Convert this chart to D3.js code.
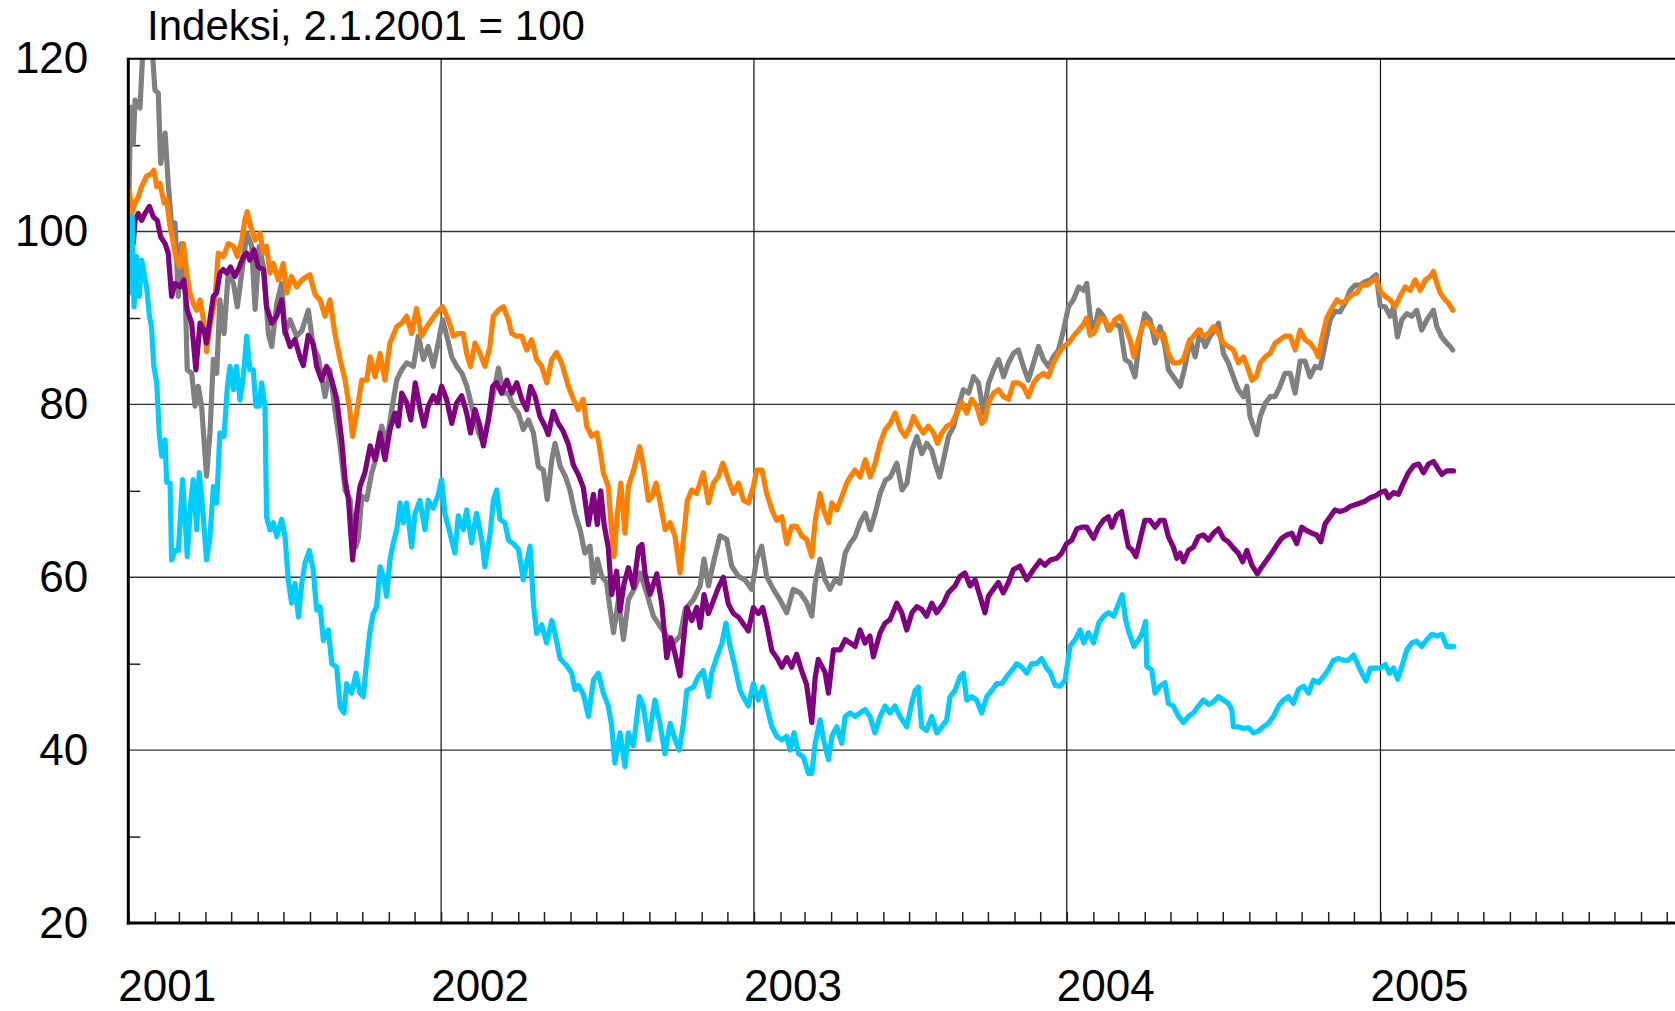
<!DOCTYPE html>
<html>
<head>
<meta charset="utf-8">
<script src="https://cdn.jsdelivr.net/npm/d3@7"></script>
<style>
  html, body { margin: 0; padding: 0; background: #fff; }
  svg { display: block; }
  text { font-family: "Liberation Sans", Arial, sans-serif; fill: #000; }
</style>
</head>
<body>
<svg id="chart" width="1675" height="1011"></svg>
<script>
// values: [months since 1.1.2001, index]
const gray = [[0,100],[0.09,114.4],[0.19,110.2],[0.26,115.2],[0.45,114.3],[0.55,120.5],[0.64,123],[0.83,123],[0.93,120.5],[1.02,116.4],[1.15,116],[1.24,107.9],[1.41,111.4],[1.53,105.6],[1.66,100.6],[1.79,101],[1.92,92.5],[2.04,98.6],[2.17,94.4],[2.26,84],[2.43,83.6],[2.56,79.8],[2.68,82.1],[2.81,79.8],[3.0,71.7],[3.13,76.7],[3.26,85.2],[3.39,83.6],[3.51,92.1],[3.67,88.2],[3.83,95.2],[4.03,94],[4.18,91.3],[4.35,95.2],[4.54,99.8],[4.73,98.3],[4.86,91],[5.02,98.3],[5.2,95.6],[5.37,88.2],[5.5,86.7],[5.69,91.7],[5.88,94],[6.0,88.2],[6.2,89.8],[6.45,87.9],[6.65,88.5],[6.9,90.9],[7.09,86.7],[7.28,85.5],[7.54,80.9],[7.73,84],[7.92,79.4],[8.12,75.2],[8.31,70.1],[8.5,69],[8.63,64.5],[8.72,63.5],[8.82,64.5],[8.95,69.4],[9.14,69],[9.33,72.1],[9.52,74],[9.71,77.5],[9.9,75.5],[10.1,79.4],[10.29,82.8],[10.48,84],[10.67,84.8],[10.93,84.4],[11.12,87.9],[11.31,85.2],[11.5,86.7],[11.69,84.4],[11.88,87.1],[12.05,89.8],[12.21,87.9],[12.4,85.5],[12.59,84.4],[12.79,83.6],[12.98,82.1],[13.23,79],[13.43,76.7],[13.61,75.5],[13.8,78.2],[14.0,81.3],[14.19,84.2],[14.38,81.3],[14.57,81.3],[14.76,79.8],[14.95,79],[15.14,77.1],[15.34,78.2],[15.53,76.7],[15.72,72.8],[15.91,72.4],[16.06,69],[16.23,73.5],[16.36,75.5],[16.56,72.8],[16.75,71.7],[16.93,70.1],[17.12,67.4],[17.32,65.5],[17.5,62.8],[17.7,63.6],[17.83,59.4],[17.98,62.1],[18.15,60.1],[18.33,59.4],[18.47,56.3],[18.6,53.6],[18.79,57.4],[18.98,52.8],[19.17,57.4],[19.43,58.9],[19.62,60.5],[19.87,58.2],[20.13,55.5],[20.39,54.3],[20.64,53.2],[20.9,52.4],[21.15,53.2],[21.35,56.3],[21.66,57.4],[21.92,59],[22.07,62.1],[22.24,59],[22.43,61.7],[22.68,64.8],[22.94,64.4],[23.13,61.3],[23.39,60.1],[23.64,59.7],[23.9,58.6],[24.09,62.1],[24.28,63.6],[24.47,60.1],[24.73,58.6],[24.98,57.4],[25.24,55.9],[25.49,58.6],[25.75,58.2],[26.0,57.1],[26.2,55.5],[26.33,59.3],[26.52,62.1],[26.71,59.7],[26.9,58.6],[27.09,59.7],[27.28,59.3],[27.48,62.8],[27.67,63.9],[27.86,64.7],[28.05,66.3],[28.25,67.4],[28.44,65.5],[28.63,67.4],[28.82,69.7],[29.02,71.2],[29.21,71.6],[29.46,73.2],[29.66,70.1],[29.85,70.9],[30.04,74.7],[30.23,76.3],[30.42,74.3],[30.61,75.5],[30.8,74.7],[30.93,73.2],[31.1,71.6],[31.25,73.6],[31.44,76.3],[31.63,77.4],[31.82,79.8],[32.01,81.7],[32.21,81.3],[32.4,83.2],[32.59,82.5],[32.78,79],[32.98,82.5],[33.17,84],[33.36,85.2],[33.55,83.2],[33.74,84.8],[33.93,85.9],[34.12,86.3],[34.31,84.4],[34.5,82.8],[34.7,84.8],[34.89,86.7],[35.08,85.2],[35.27,84.4],[35.46,85.5],[35.66,86.3],[35.85,88.6],[36.04,91.3],[36.23,92.1],[36.43,93.6],[36.62,93.2],[36.74,94],[36.87,90.2],[37.0,88.2],[37.19,90.9],[37.38,90.2],[37.57,88.6],[37.76,89.4],[38.02,89],[38.21,85.2],[38.4,84.8],[38.59,83.2],[38.78,87.9],[38.97,90.5],[39.17,89.8],[39.36,87.1],[39.55,89],[39.74,86.7],[39.87,84],[40.06,83.2],[40.32,82.1],[40.51,84.4],[40.7,87.5],[40.9,85.5],[41.09,88.6],[41.28,86.7],[41.47,87.9],[41.66,88.6],[41.79,89.4],[41.98,85.9],[42.17,84.8],[42.36,83.2],[42.55,81.7],[42.75,80.9],[42.88,82.1],[43.0,78.6],[43.13,77.5],[43.26,76.5],[43.39,78.6],[43.58,80.1],[43.77,80.9],[43.96,80.9],[44.15,82.1],[44.34,83.6],[44.54,83.6],[44.73,81.3],[44.92,85],[45.11,85],[45.3,83.2],[45.5,84.4],[45.69,84.2],[45.88,87],[46.07,89.8],[46.26,90.8],[46.45,90.7],[46.64,91.7],[46.84,93.2],[47.03,93.8],[47.22,93.8],[47.41,94.2],[47.6,94.4],[47.84,95],[47.99,91.4],[48.18,91.3],[48.37,90.2],[48.5,91.3],[48.65,87.8],[48.82,89.8],[49.01,90.5],[49.2,90.2],[49.39,90.9],[49.58,88.6],[49.78,89.8],[50.03,90.9],[50.16,89],[50.35,87.8],[50.54,87.1],[50.67,86.7],[50.77,86.3]]

const orange = [[0,100],[0.04,104.8],[0.13,102.1],[0.26,103.3],[0.38,104],[0.51,105.2],[0.7,106.4],[0.89,106.7],[0.98,107.1],[1.09,105.2],[1.21,105.6],[1.37,103.3],[1.47,103.7],[1.6,100.6],[1.73,98.6],[1.85,96.7],[1.98,95.9],[2.11,98.6],[2.24,95.2],[2.36,92.9],[2.49,91.7],[2.62,90.9],[2.75,92.1],[2.88,89.8],[3.0,86.1],[3.13,89],[3.32,92.1],[3.45,97.5],[3.64,97.1],[3.83,98.6],[4.03,98.3],[4.18,97.1],[4.35,99],[4.47,101.4],[4.56,102.3],[4.69,100.6],[4.86,99],[5.05,99.8],[5.18,97.5],[5.3,98.3],[5.43,95.2],[5.56,96.3],[5.75,94.4],[5.94,96.3],[6.07,92.9],[6.26,94.8],[6.45,93.6],[6.65,94.4],[6.84,94.8],[6.96,95],[7.16,92.7],[7.35,92.1],[7.54,90.2],[7.73,92.1],[7.92,88.2],[8.12,85.2],[8.31,82.8],[8.47,79.8],[8.6,76.3],[8.75,79],[8.95,82.8],[9.14,82.8],[9.27,85.5],[9.46,83.2],[9.65,85.9],[9.84,82.8],[10.03,87.1],[10.29,89],[10.48,89.4],[10.67,90.2],[10.86,88.2],[11.05,91.1],[11.24,87.9],[11.44,89],[11.63,89.8],[11.82,90.6],[12.05,91.3],[12.27,89.8],[12.46,87.9],[12.65,88.2],[12.84,88.2],[12.97,85.9],[13.12,84.4],[13.29,87.1],[13.48,85.9],[13.67,84.4],[13.86,86.7],[13.99,90.2],[14.19,90.9],[14.38,91.3],[14.57,89.8],[14.7,88.2],[14.89,87.9],[15.08,87.9],[15.27,86.3],[15.46,87.5],[15.65,85.2],[15.85,84.4],[16.04,82.5],[16.23,85.2],[16.42,86],[16.61,84.8],[16.87,82.1],[17.06,80.6],[17.25,79.4],[17.44,80.6],[17.57,77.5],[17.76,76.3],[17.96,76.7],[18.08,74.8],[18.21,72.1],[18.4,70.5],[18.53,65.1],[18.62,62.4],[18.75,67.4],[18.88,70.9],[19.04,65.1],[19.17,70.5],[19.37,72.4],[19.6,75.1],[19.75,72.8],[19.94,68.9],[20.07,69.3],[20.23,70.9],[20.39,68.6],[20.58,65.5],[20.77,66.3],[20.96,64.7],[21.15,60.5],[21.3,65.1],[21.43,68.9],[21.6,70.1],[21.79,69.7],[22.04,72.1],[22.24,68.6],[22.43,70.9],[22.62,71.7],[22.79,73.2],[23.0,71.3],[23.2,69.7],[23.39,70.9],[23.58,68.9],[23.77,68.6],[23.96,70.5],[24.09,72.4],[24.29,72.4],[24.47,69.7],[24.67,67.8],[24.85,66.6],[25.05,67],[25.24,63.9],[25.43,65.9],[25.62,65.9],[25.81,64.8],[26.0,64.4],[26.2,62.4],[26.33,66.5],[26.52,69.7],[26.65,67.8],[26.84,66.3],[26.97,68.6],[27.16,67.8],[27.35,69.3],[27.54,70.9],[27.67,71.6],[27.86,72.4],[28.05,71.6],[28.25,73.6],[28.44,71.6],[28.63,73.2],[28.82,75.5],[29.02,77.1],[29.21,77.8],[29.4,79],[29.6,77.1],[29.79,76.3],[29.98,77.5],[30.1,78.6],[30.29,77.5],[30.48,76.7],[30.67,77.5],[30.87,76.7],[31.02,75.5],[31.18,76.7],[31.38,77.5],[31.57,77.8],[31.76,79],[31.95,80.2],[32.14,79],[32.33,80.6],[32.52,79.8],[32.72,77.8],[32.84,78.2],[32.97,80.2],[33.17,81.3],[33.36,81.7],[33.55,80.9],[33.74,80.6],[33.93,82.5],[34.12,82.5],[34.31,82.1],[34.5,80.9],[34.7,82.5],[34.89,83.2],[35.08,83.6],[35.27,83.2],[35.46,84.8],[35.66,85.9],[35.85,86.7],[36.04,87.1],[36.23,87.9],[36.43,88.6],[36.62,89.3],[36.74,90],[36.87,88],[37.06,88.5],[37.25,90],[37.44,89.8],[37.63,88.6],[37.82,89.8],[38.02,90.2],[38.21,89],[38.4,87.5],[38.55,85.5],[38.72,87.5],[38.91,89.4],[39.1,89.4],[39.3,88.6],[39.49,87.9],[39.68,88.2],[39.87,85.9],[40.06,84.8],[40.26,84.8],[40.45,85.2],[40.64,87.1],[40.83,87.9],[41.02,88.6],[41.21,87.9],[41.41,88.2],[41.6,89],[41.79,88.2],[41.98,87.1],[42.17,86.7],[42.36,86.3],[42.55,84.8],[42.75,85.5],[42.94,84],[43.07,82.8],[43.24,83.2],[43.39,84.8],[43.58,85.5],[43.77,85.9],[43.96,87.1],[44.15,87.5],[44.34,87.9],[44.54,87.9],[44.73,86.3],[44.92,88.6],[45.11,87.5],[45.3,87.1],[45.5,86.3],[45.62,85.5],[45.75,87.6],[45.94,90],[46.13,91.1],[46.33,92.1],[46.52,91.7],[46.71,92.1],[46.9,92.7],[47.09,92.9],[47.28,93.8],[47.47,93.8],[47.66,94.2],[47.84,94.6],[47.99,93.1],[48.18,92.5],[48.37,92.1],[48.56,91.3],[48.75,92.5],[48.95,93.6],[49.14,93.2],[49.33,94.4],[49.52,93.2],[49.72,94.4],[49.9,94.8],[50.03,95.4],[50.16,94],[50.29,92.9],[50.48,92.1],[50.61,91.7],[50.77,90.9]]

const purple = [[0,100],[0.04,100.6],[0.19,98.6],[0.26,101.3],[0.38,102.1],[0.51,101.3],[0.64,102.1],[0.81,102.9],[0.96,101.7],[1.11,101.3],[1.24,99.4],[1.41,98.6],[1.53,97.5],[1.66,92.5],[1.79,94],[1.98,93.6],[2.13,94.4],[2.26,90.9],[2.43,89.4],[2.59,84],[2.75,89.4],[2.9,88.6],[3.0,87.1],[3.13,89.8],[3.26,92.5],[3.39,92.9],[3.51,95.2],[3.64,95.6],[3.77,95.2],[3.92,95.9],[4.09,94.8],[4.26,95.9],[4.41,97.1],[4.54,97.5],[4.66,96.7],[4.82,97.9],[4.98,95.9],[5.18,95.6],[5.3,91.3],[5.5,89.4],[5.69,90.2],[5.88,92.1],[6.0,88.6],[6.2,86.7],[6.39,87.5],[6.58,85.5],[6.71,84.5],[6.9,88],[7.09,87],[7.22,84.4],[7.41,82.8],[7.6,84.4],[7.8,82.8],[7.99,80.6],[8.18,75.9],[8.31,71.3],[8.44,69],[8.6,62],[8.75,67.4],[8.88,70.5],[9.07,72.1],[9.27,75.2],[9.46,73.6],[9.65,76.7],[9.84,73.6],[10.03,77.1],[10.22,79],[10.35,77.5],[10.48,81.3],[10.67,80.2],[10.83,78.2],[11.0,82.5],[11.19,79.4],[11.34,77.5],[11.5,79.8],[11.69,81],[11.85,80.2],[12.01,82.1],[12.2,80.6],[12.4,77.8],[12.59,80.2],[12.78,81],[12.97,79],[13.12,76.7],[13.29,79.4],[13.48,77.5],[13.61,75.2],[13.8,78.2],[13.97,82.1],[14.12,82.5],[14.31,81.3],[14.51,82.8],[14.7,81.3],[14.89,82.5],[15.08,80.6],[15.27,79.4],[15.42,82.1],[15.59,81],[15.78,78.6],[15.97,77.5],[16.1,76.5],[16.29,79.2],[16.48,77.8],[16.67,76.9],[16.87,75.4],[17.06,73],[17.25,71.9],[17.44,70.4],[17.64,66.1],[17.83,69.6],[17.98,66.1],[18.11,70],[18.24,66.1],[18.4,63.4],[18.53,58],[18.72,60.7],[18.85,56.1],[19.0,59.2],[19.17,61.1],[19.37,58.8],[19.56,63.4],[19.69,63.8],[19.81,60.4],[20.0,58],[20.26,60.4],[20.45,56.9],[20.64,50.7],[20.8,53],[20.96,51.1],[21.15,48.6],[21.28,52.6],[21.41,56.5],[21.6,55],[21.79,56.5],[21.92,54.2],[22.07,58],[22.24,55.8],[22.43,57.3],[22.62,58.8],[22.81,60],[23.0,56.9],[23.2,55.8],[23.39,55.4],[23.58,54.6],[23.77,53.8],[23.96,56.5],[24.15,55.8],[24.32,56.5],[24.47,54.6],[24.67,51.5],[24.86,50.7],[25.05,49.6],[25.24,50.7],[25.43,49.6],[25.62,51.1],[25.81,49.2],[26.0,47.6],[26.2,43.2],[26.33,48.4],[26.45,50.5],[26.71,49],[26.84,46.6],[27.03,51.6],[27.29,51.6],[27.48,52.8],[27.67,52.4],[27.86,52],[28.05,53.9],[28.24,52.4],[28.43,53.2],[28.56,50.8],[28.82,53.6],[29.01,54.7],[29.2,55.1],[29.46,57],[29.65,55.9],[29.84,53.9],[30.04,55.9],[30.23,56.6],[30.41,56.3],[30.6,55.5],[30.8,57],[30.99,55.9],[31.25,57],[31.43,58.2],[31.69,59],[31.88,60.1],[32.07,60.5],[32.27,59],[32.46,59.7],[32.65,57.8],[32.84,55.9],[32.97,57.8],[33.16,58.6],[33.35,59.4],[33.54,58.2],[33.74,59.4],[33.93,60.9],[34.18,61.3],[34.44,59.7],[34.7,60.9],[34.95,61.9],[35.14,61.4],[35.34,62],[35.59,62.2],[35.78,62.8],[35.97,63.9],[36.17,64.3],[36.36,65.6],[36.55,65.8],[36.74,65.8],[37.0,64.5],[37.19,65.8],[37.38,66.6],[37.57,67],[37.7,65.8],[37.89,67.2],[38.08,67.6],[38.21,65.4],[38.34,63.5],[38.47,63.2],[38.63,62.4],[38.78,64.3],[38.97,66.6],[39.16,66.6],[39.36,65.8],[39.55,66.6],[39.71,66.6],[39.87,64.7],[40.06,63.5],[40.19,62.2],[40.32,62.8],[40.45,61.8],[40.64,63.1],[40.83,63.5],[41.02,64.7],[41.21,64.9],[41.41,64.3],[41.6,65.1],[41.79,65.6],[41.98,64.5],[42.17,64.1],[42.36,63.4],[42.55,62.8],[42.72,61.8],[42.88,63.1],[43.07,61.4],[43.28,60.4],[43.45,61.2],[43.64,62],[43.83,62.8],[44.02,63.7],[44.21,64.5],[44.41,64.9],[44.6,65.1],[44.79,63.9],[44.98,65.8],[45.17,65.4],[45.37,65.1],[45.56,64.9],[45.71,64.1],[45.88,66.2],[46.07,67],[46.26,67.8],[46.45,67.6],[46.65,67.8],[46.84,68.2],[47.03,68.4],[47.22,68.6],[47.41,68.8],[47.6,69.2],[47.8,69.4],[47.99,69.8],[48.18,70],[48.31,69.2],[48.5,69.8],[48.69,69.6],[48.88,70.9],[49.07,72.1],[49.27,72.9],[49.46,73.1],[49.65,72.1],[49.84,73.1],[50.03,73.4],[50.22,72.5],[50.35,71.9],[50.54,72.3],[50.8,72.3]]

const cyan = [[0,100],[0.09,92.9],[0.15,101.7],[0.22,91.3],[0.32,97.1],[0.42,92.5],[0.51,96.7],[0.6,95.2],[0.7,93.6],[0.81,90.2],[0.89,89],[0.98,84.4],[1.09,82.5],[1.19,76.5],[1.28,74],[1.41,75.9],[1.47,71],[1.6,70.9],[1.66,62],[1.79,63.1],[1.92,63.1],[2.08,71.3],[2.17,67],[2.26,62.4],[2.39,68.6],[2.49,71.3],[2.62,65.5],[2.72,72.1],[2.81,69.4],[2.9,65.9],[3.0,62],[3.13,64.7],[3.26,70.5],[3.39,68.6],[3.51,76.7],[3.67,76.3],[3.8,82.1],[3.9,84.4],[4.03,81.7],[4.15,84.4],[4.28,80.5],[4.41,83.2],[4.54,87.9],[4.66,84],[4.79,84],[4.89,79.8],[5.02,79.8],[5.11,82.5],[5.24,79.8],[5.3,67],[5.43,65.5],[5.56,66.3],[5.69,64.7],[5.88,66.7],[6.01,64.7],[6.13,59.7],[6.26,57],[6.39,59.3],[6.52,55.4],[6.65,59.3],[6.77,61.6],[6.94,63.1],[7.09,60.8],[7.22,56.2],[7.35,56.6],[7.48,52.7],[7.67,53.9],[7.8,50],[7.99,49.6],[8.12,45],[8.27,44.3],[8.37,47.7],[8.56,46.6],[8.73,48.9],[8.88,46.6],[9.01,46.2],[9.14,50.4],[9.27,53.9],[9.39,55.8],[9.52,56.6],[9.65,61.2],[9.78,60.1],[9.9,57.8],[10.03,62],[10.16,64],[10.29,65.5],[10.42,68.6],[10.54,66.3],[10.67,68.6],[10.86,63.5],[10.99,67.4],[11.18,68.9],[11.37,65.5],[11.5,68.9],[11.69,68],[11.88,69.5],[12.01,71.3],[12.14,67.3],[12.33,65.1],[12.52,62.8],[12.65,67.1],[12.84,65.5],[12.97,67.8],[13.16,64],[13.35,67.4],[13.55,64.3],[13.67,61.2],[13.87,65.1],[14.0,69],[14.12,70.1],[14.25,66.7],[14.44,66.3],[14.57,64.3],[14.76,63.9],[14.96,63.2],[15.14,59.7],[15.4,63.6],[15.53,57],[15.65,53.5],[15.85,54.5],[16.04,52.4],[16.23,55],[16.36,53.5],[16.55,50.6],[16.8,49.8],[17.0,48.9],[17.12,47],[17.25,47.5],[17.44,46.5],[17.64,43.9],[17.83,48.1],[18.02,48.9],[18.21,46.6],[18.4,45.1],[18.53,42.8],[18.65,38.5],[18.85,42],[19.04,38.1],[19.17,42],[19.36,40.5],[19.59,46.2],[19.74,45.1],[19.94,41.2],[20.19,45.8],[20.38,43.1],[20.57,39.6],[20.77,43.1],[20.96,41.2],[21.12,40],[21.28,43.1],[21.41,46.9],[21.66,47.3],[21.85,48.5],[22.04,49.2],[22.24,46.2],[22.36,48.9],[22.56,50.8],[22.75,52.3],[22.91,54.7],[23.07,52],[23.26,49.6],[23.45,46.9],[23.64,45.8],[23.77,45.1],[23.96,47.7],[24.15,45.8],[24.32,47.3],[24.47,45.1],[24.67,42.7],[24.86,41.6],[25.05,41.2],[25.24,41.6],[25.37,40],[25.52,42],[25.69,39.6],[25.88,39.2],[26.07,37.3],[26.2,37.3],[26.33,40.8],[26.52,43.5],[26.65,41.2],[26.84,38.9],[26.97,41.6],[27.16,42.7],[27.35,40.8],[27.48,43.9],[27.67,44.3],[27.86,43.9],[28.05,44.3],[28.24,44.7],[28.43,43.9],[28.62,42],[28.82,43.9],[29.01,45.1],[29.2,44.3],[29.39,45.1],[29.58,43.9],[29.84,42.7],[30.03,45.4],[30.16,46.9],[30.29,47.3],[30.41,42.7],[30.6,42.3],[30.8,43.9],[30.99,42],[31.18,42.7],[31.37,43.5],[31.5,46.2],[31.69,46.9],[31.88,48.5],[32.01,48.9],[32.14,45.8],[32.33,46.2],[32.52,45.8],[32.71,44.3],[32.91,46.2],[33.1,46.9],[33.29,47.7],[33.48,47.7],[33.67,48.5],[33.86,49.2],[34.06,50],[34.25,49.6],[34.44,48.9],[34.63,50],[34.82,50],[35.01,50.6],[35.2,49.5],[35.34,49],[35.53,47.5],[35.72,47.4],[35.91,48.1],[36.1,52],[36.3,52.8],[36.49,53.9],[36.62,52.4],[36.81,53.6],[37.0,52.4],[37.2,54.7],[37.39,55.5],[37.58,55.9],[37.77,55.5],[37.97,57],[38.1,58],[38.23,55.1],[38.36,53.6],[38.55,52],[38.74,52.8],[38.87,53.6],[39.0,54.9],[39.04,49.7],[39.23,49.3],[39.36,46.6],[39.55,47.4],[39.74,47.8],[39.87,45.4],[40.06,45.1],[40.26,43.9],[40.45,43.2],[40.64,43.9],[40.83,44.3],[41.02,45.1],[41.21,45.8],[41.41,45.3],[41.6,45.6],[41.79,46.2],[41.98,45.8],[42.17,45.4],[42.3,44.7],[42.36,42.7],[42.55,42.7],[42.75,42.5],[42.94,42.6],[43.13,42],[43.32,42.2],[43.51,42.7],[43.7,43.1],[43.9,43.9],[44.09,45.1],[44.28,45.8],[44.47,46.2],[44.66,45.4],[44.85,47],[45.05,47.4],[45.24,46.6],[45.43,48.1],[45.62,47.8],[45.81,48.5],[46.0,49.3],[46.2,50.4],[46.39,50.6],[46.58,50.4],[46.77,50.4],[46.97,51],[47.16,49.7],[47.29,48.9],[47.45,48],[47.61,49.5],[47.8,49.5],[47.99,49.5],[48.18,49.9],[48.35,48.9],[48.5,49.5],[48.66,48.2],[48.82,49.7],[49.01,51.6],[49.2,52.4],[49.39,52.6],[49.58,52],[49.78,52.8],[49.97,53.4],[50.16,53.2],[50.35,53.4],[50.54,52],[50.8,52]]

const yMajor = [20, 40, 60, 80, 100, 120]
const yMinor = [30, 50, 70, 90, 110]
const years = [2001, 2002, 2003, 2004, 2005]
const title = "Indeksi, 2.1.2001 = 100"

// series drawn bottom to top
const series = [
  { data: gray, color: "#808080" },
  { data: orange, color: "#ff8000" },
  { data: purple, color: "#800080" },
  { data: cyan, color: "#00ccff" }
]

const W = 1675, H = 1011
const plotLeft = 128.3, plotTop = 58.7, plotBottom = 923

const svg = d3.select("#chart")

const start = new Date(2001, 0, 1)
const toDate = m => new Date(start.getTime() + m * 30.4375 * 864e5)

let x = d3.scaleTime()
  .domain([start, new Date(2006, 0, 1)])
  .range([plotLeft, plotLeft + 5 * 313])

let y = d3.scaleLinear()
  .domain([20, 120])
  .range([plotBottom, plotTop])

// horizontal grid
svg.append("g").selectAll("line")
  .data([40, 60, 80, 100]).enter().append("line")
    .attr("x1", plotLeft).attr("x2", W)
    .attr("y1", d => y(d)).attr("y2", d => y(d))
    .attr("stroke", "#333").attr("stroke-width", 1.4)

// year grid
svg.append("g").selectAll("line")
  .data(years.slice(1)).enter().append("line")
    .attr("x1", d => x(new Date(d, 0, 1))).attr("x2", d => x(new Date(d, 0, 1)))
    .attr("y1", plotTop).attr("y2", plotBottom)
    .attr("stroke", "#111").attr("stroke-width", 1.2)

// month ticks on the bottom axis
svg.append("g")
  .attr("transform", `translate(0,${plotBottom})`)
  .call(d3.axisTop(x).ticks(d3.timeMonth.every(1)).tickSize(11).tickFormat(""))
  .call(g => g.select(".domain").remove())
  .call(g => g.selectAll("line").attr("stroke", "#222").attr("stroke-width", 1.5))

// minor ticks on the left axis
svg.append("g")
  .attr("transform", `translate(${plotLeft},0)`)
  .call(d3.axisRight(y).tickValues(yMinor).tickSize(12).tickFormat(""))
  .call(g => g.select(".domain").remove())
  .call(g => g.selectAll("line").attr("stroke", "#222").attr("stroke-width", 1.5))

// lines
svg.append("clipPath").attr("id", "plot")
  .append("rect").attr("x", plotLeft).attr("y", plotTop)
  .attr("width", W - plotLeft).attr("height", plotBottom - plotTop)

let line = d3.line()
  .x(d => x(toDate(d[0])))
  .y(d => y(d[1]))

svg.append("g").attr("clip-path", "url(#plot)")
  .selectAll("path").data(series).enter().append("path")
    .attr("d", d => line(d.data))
    .attr("fill", "none")
    .attr("stroke", d => d.color)
    .attr("stroke-width", 5.2)
    .attr("stroke-linejoin", "round")
    .attr("stroke-linecap", "round")

// frame: top line, left and bottom axes
svg.append("line").attr("x1", plotLeft).attr("x2", W).attr("y1", plotTop).attr("y2", plotTop)
  .attr("stroke", "#000").attr("stroke-width", 2)
svg.append("line").attr("x1", plotLeft).attr("x2", plotLeft).attr("y1", plotTop - 1).attr("y2", plotBottom + 1.5)
  .attr("stroke", "#000").attr("stroke-width", 3)
svg.append("line").attr("x1", plotLeft - 1.5).attr("x2", W).attr("y1", plotBottom).attr("y2", plotBottom)
  .attr("stroke", "#000").attr("stroke-width", 3)

// y labels
svg.append("g")
  .attr("transform", `translate(${plotLeft},0)`)
  .call(d3.axisLeft(y).tickValues(yMajor).tickSize(0).tickPadding(40))
  .call(g => g.select(".domain").remove())
  .call(g => g.selectAll("text")
    .attr("font-size", 44)
    .attr("font-family", "'Liberation Sans', Arial, sans-serif")
    .attr("fill", "#000"))

// year labels
svg.append("g").selectAll("text")
  .data(years).enter().append("text")
    .attr("x", d => x(new Date(d, 0, 1)) + 39)
    .attr("y", 1001)
    .attr("text-anchor", "middle")
    .attr("font-size", 44)
    .text(d => d)

svg.append("text")
  .attr("x", 147).attr("y", 40)
  .attr("font-size", 42)
  .text(title)
</script>
</body>
</html>
